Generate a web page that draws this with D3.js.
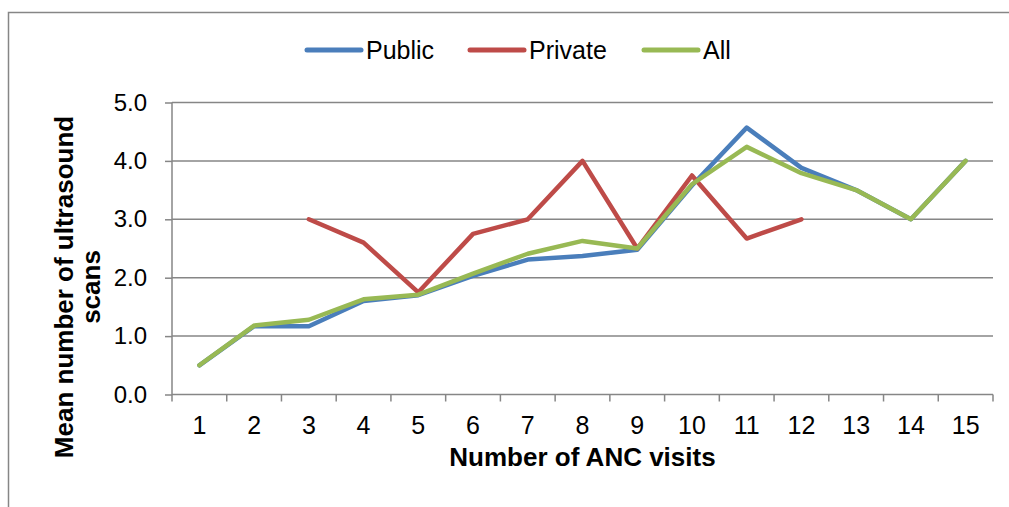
<!DOCTYPE html>
<html>
<head>
<meta charset="utf-8">
<script src="https://cdn.jsdelivr.net/npm/d3@7"></script>
<style>
  html, body { margin: 0; padding: 0; background: #fff; overflow: hidden; }
  svg { display: block; }
  text { font-family: "Liberation Sans", Arial, sans-serif; fill: #000; }
</style>
</head>
<body>
<div id="chart"></div>
<script>
// data
var visits = ["1","2","3","4","5","6","7","8","9","10","11","12","13","14","15"];
var publicScans  = [0.5, 1.17, 1.17, 1.6, 1.7, 2.03, 2.31, 2.37, 2.48, 3.58, 4.57, 3.88, 3.5, 3.0, 4.0];
var privateScans = [null, null, 3.0, 2.6, 1.75, 2.75, 3.0, 4.0, 2.5, 3.75, 2.67, 3.0, null, null, null];
var allScans     = [0.5, 1.18, 1.28, 1.63, 1.71, 2.07, 2.41, 2.63, 2.5, 3.6, 4.24, 3.79, 3.5, 3.0, 4.0];
var seriesNames  = ["Public", "Private", "All"];
var yTicks = [0, 1, 2, 3, 4, 5];

var colors = ["#4a7ebb", "#be4b48", "#98b954"];
var gridColor = "#868686";

var W = 1009, H = 507;
var plot = {left: 172, right: 993, top: 102.5, bottom: 394.5};

var svg = d3.select("#chart").append("svg")
  .attr("width", W)
  .attr("height", H);

// outer frame: only its left and top edges fall inside the picture
svg.append("path")
  .attr("d", "M8.5," + H + "V12.5H" + W)
  .attr("fill", "none")
  .attr("stroke", gridColor)
  .attr("stroke-width", 1.5);

var x = d3.scaleBand()
  .domain(visits)
  .range([plot.left, plot.right]);

var y = d3.scaleLinear()
  .domain([0, 5])
  .range([plot.bottom, plot.top]);

// gridlines
svg.append("g").selectAll("line")
  .data(yTicks.filter(function(d) { return d > 0; }))
  .enter().append("line")
    .attr("x1", plot.left).attr("x2", plot.right)
    .attr("y1", function(d) { return y(d); })
    .attr("y2", function(d) { return y(d); })
    .attr("stroke", gridColor)
    .attr("stroke-width", 1.5);

// y axis
var yAxis = svg.append("g")
  .attr("transform", "translate(" + plot.left + ",0)")
  .call(d3.axisLeft(y).tickValues(yTicks).tickFormat(d3.format(".1f")).tickSize(7).tickPadding(18));
yAxis.select(".domain").attr("stroke", gridColor).attr("stroke-width", 1.5)
  .attr("d", "M0," + plot.top + "V" + (plot.bottom + 7));
yAxis.selectAll(".tick line").attr("stroke", gridColor).attr("stroke-width", 1.5);
yAxis.selectAll("text").style("font-size", "24px").attr("fill", "#000");

// x axis (labels centred in bands, ticks on the band edges)
var xAxis = svg.append("g")
  .attr("transform", "translate(0," + plot.bottom + ")")
  .call(d3.axisBottom(x).tickSize(0).tickPadding(22));
xAxis.select(".domain").attr("stroke", gridColor).attr("stroke-width", 1.5)
  .attr("d", "M" + plot.left + ",0H" + plot.right);
xAxis.selectAll("text").style("font-size", "25px").attr("fill", "#000");
xAxis.selectAll(".edge")
  .data(visits)
  .enter().append("line")
    .attr("class", "edge")
    .attr("x1", function(d) { return x(d) + x.bandwidth(); })
    .attr("x2", function(d) { return x(d) + x.bandwidth(); })
    .attr("y1", 0).attr("y2", 7)
    .attr("stroke", gridColor)
    .attr("stroke-width", 1.5);

// lines
var allSeries = [publicScans, privateScans, allScans];
var line = d3.line()
  .defined(function(d) { return d != null; })
  .x(function(d, i) { return x(visits[i]) + x.bandwidth() / 2; })
  .y(function(d) { return y(d); });

svg.append("g").selectAll("path")
  .data(allSeries)
  .enter().append("path")
    .attr("d", line)
    .attr("fill", "none")
    .attr("stroke", function(d, i) { return colors[i]; })
    .attr("stroke-width", 4.5)
    .attr("stroke-linejoin", "round")
    .attr("stroke-linecap", "round");

// legend
var legendX = [307, 470, 644];
var legend = svg.append("g").selectAll("g")
  .data(seriesNames)
  .enter().append("g")
    .attr("transform", function(d, i) { return "translate(" + legendX[i] + ",50)"; });
legend.append("line")
  .attr("x1", 0).attr("x2", 54)
  .attr("stroke", function(d, i) { return colors[i]; })
  .attr("stroke-width", 5)
  .attr("stroke-linecap", "round");
legend.append("text")
  .attr("x", 59).attr("y", 8.5)
  .style("font-size", "25px")
  .text(function(d) { return d; });

// axis titles
svg.append("text")
  .attr("x", (plot.left + plot.right) / 2)
  .attr("y", 466)
  .attr("text-anchor", "middle")
  .style("font-size", "26px")
  .style("font-weight", "bold")
  .text("Number of ANC visits");

var yTitle = svg.append("text")
  .attr("transform", "translate(0,287) rotate(-90)")
  .attr("text-anchor", "middle")
  .style("font-size", "26px")
  .style("font-weight", "bold");
yTitle.append("tspan").attr("x", 0).attr("y", 73).text("Mean number of ultrasound");
yTitle.append("tspan").attr("x", 0).attr("y", 100).text("scans");
</script>
</body>
</html>
